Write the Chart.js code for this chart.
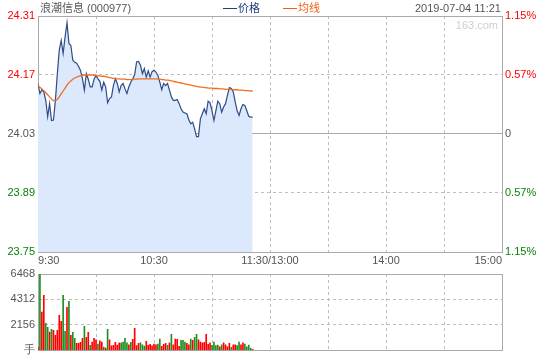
<!DOCTYPE html>
<html><head><meta charset="utf-8">
<script src="https://cdn.jsdelivr.net/npm/chart.js@4.4.1/dist/chart.umd.min.js"></script>
<style>
html,body{margin:0;padding:0;background:#fff;width:540px;height:360px;overflow:hidden;position:relative;font-family:"Liberation Sans",Arial,"Noto Sans CJK SC",sans-serif}
#c1{position:absolute;left:0;top:0}
#c2{position:absolute;left:0;top:264px}
.t{position:absolute;font-size:11px;line-height:14px;white-space:nowrap}
.ln{display:inline-block;width:14px;height:0;border-top:1.5px solid;vertical-align:middle;margin-right:1px;position:relative;top:-1px}
</style></head><body>
<canvas id="c1" width="540" height="270"></canvas>
<canvas id="c2" width="540" height="96"></canvas>
<div class="t" style="left:40px;top:1px;color:#555">浪潮信息 (000977)</div>
<div class="t" style="left:223px;top:1px;color:#1f3f7a"><span class="ln" style="border-color:#1f3f7a"></span>价格</div>
<div class="t" style="left:283px;top:1px;color:#f06010"><span class="ln" style="border-color:#f06010"></span>均线</div>
<div class="t" style="right:39px;top:1px;color:#555">2019-07-04 11:21</div>
<div class="t" style="right:42px;top:18px;color:#cfcfcf">163.com</div>
<script>
// ---- data ----
const timeTickMinutes = [0, 60, 120, 180, 240];
const timeTickLabels = ['9:30', '10:30', '11:30/13:00', '14:00', '15:00'];
const gridMinutes = [0, 30, 60, 90, 120, 150, 180, 210, 240];
const priceTicks = [24.31, 24.17, 24.03, 23.89, 23.75];
const pctTickLabels = ['1.15%', '0.57%', '0', '0.57%', '1.15%'];
const prevClose = 24.03;
const volumeTicks = [0, 2156, 4312, 6468];
const volumeTickLabels = ['手', '2156', '4312', '6468'];

const priceValues = [
 24.149,24.126,24.135,24.130,24.110,24.071,24.102,24.062,24.063,24.110,
 24.173,24.229,24.252,24.221,24.260,24.294,24.245,24.240,24.205,24.200,
 24.198,24.190,24.181,24.161,24.134,24.173,24.160,24.142,24.142,24.160,
 24.169,24.161,24.155,24.134,24.153,24.142,24.104,24.114,24.118,24.145,
 24.161,24.150,24.130,24.145,24.150,24.137,24.126,24.142,24.153,24.161,
 24.171,24.201,24.202,24.193,24.173,24.185,24.165,24.180,24.165,24.178,
 24.181,24.177,24.169,24.153,24.135,24.150,24.145,24.150,24.134,24.118,
 24.110,24.110,24.112,24.102,24.090,24.082,24.080,24.078,24.064,24.054,
 24.058,24.042,24.024,24.024,24.066,24.078,24.090,24.078,24.108,24.104,
 24.085,24.062,24.085,24.108,24.102,24.082,24.094,24.102,24.122,24.140,
 24.138,24.130,24.106,24.085,24.074,24.090,24.100,24.098,24.085,24.072,
 24.070,24.070];

const avgValues = [
 24.145,24.141,24.137,24.133,24.128,24.123,24.118,24.113,24.109,24.109,
 24.112,24.118,24.125,24.132,24.139,24.146,24.152,24.156,24.160,24.163,
 24.165,24.167,24.168,24.169,24.170,24.170,24.170,24.170,24.170,24.169,
 24.169,24.168,24.168,24.167,24.167,24.166,24.165,24.164,24.163,24.162,
 24.162,24.161,24.161,24.160,24.160,24.160,24.159,24.159,24.159,24.159,
 24.160,24.160,24.161,24.161,24.161,24.161,24.161,24.161,24.161,24.161,
 24.161,24.161,24.160,24.160,24.159,24.159,24.158,24.158,24.157,24.156,
 24.155,24.154,24.153,24.152,24.151,24.150,24.149,24.148,24.147,24.146,
 24.145,24.144,24.143,24.142,24.141,24.141,24.140,24.140,24.139,24.139,
 24.139,24.138,24.138,24.138,24.137,24.137,24.137,24.136,24.136,24.136,
 24.136,24.135,24.135,24.135,24.134,24.134,24.134,24.133,24.133,24.133,
 24.132,24.132];

const volumeValues = [
 254,6440,3248,4660,2287,1950,1553,1780,1694,1271,
 1694,2965,2457,4660,1610,3643,4151,1271,1525,1017,
 593,593,678,1017,2033,1101,1525,424,700,1017,
 904,536,819,706,282,198,1779,904,395,424,
 678,452,650,650,700,1017,650,480,678,932,
 1864,400,593,650,480,367,762,424,508,395,
 536,480,536,960,340,508,593,424,650,1355,
 480,950,932,350,850,847,700,600,480,960,
 847,1100,1355,900,700,650,678,1355,520,650,
 424,700,400,450,300,480,650,480,300,593,
 250,480,480,400,700,480,650,540,300,450,
 200,100];
// 1 = up (red), 0 = down (green)
const volumeUp = [
 1,0,1,1,0,0,1,0,1,1,
 1,1,1,0,0,1,0,1,0,0,
 1,1,1,1,0,1,1,0,1,1,
 1,0,1,1,0,1,0,1,1,1,
 1,1,1,0,0,0,0,1,0,1,
 1,1,1,0,0,0,1,1,1,1,
 1,1,0,0,1,1,1,0,1,0,
 1,1,1,1,0,0,0,1,1,0,
 1,0,0,1,1,1,1,1,1,1,
 0,0,0,0,1,0,1,1,1,1,
 0,1,1,0,0,1,1,0,0,0,
 0,1];

// ---- styles ----
const FONT = "'Liberation Sans', Arial, sans-serif";
const RED = '#ff0000', GREEN = '#0a820a', GREY = '#555555';
const BORDER = '#aaaaaa', GRID = '#bdbdbd';
const near = (a, b) => Math.abs(a - b) < 1e-6;
const priceColor = v => near(v, prevClose) ? GREY : (v > prevClose ? RED : GREEN);
const isEnd = c => c.tick && (c.tick.value === 0 || c.tick.value === 240);

new Chart(document.getElementById('c1'), {
  type: 'line',
  data: { datasets: [
    { label: '均线', data: avgValues.map((v, i) => ({ x: i, y: v })), borderColor: '#f36d21', borderWidth: 1.3,
      pointRadius: 0, fill: false, tension: 0, order: 0 },
    { label: '价格', data: priceValues.map((v, i) => ({ x: i, y: v })), borderColor: '#2c4d86', borderWidth: 1.2,
      pointRadius: 0, fill: 'start', backgroundColor: '#dce8fb', tension: 0, order: 1 }
  ]},
  options: {
    responsive: false, animation: false, events: [],
    layout: { padding: { top: 16, left: 0, right: 0, bottom: 0 } },
    plugins: { legend: { display: false }, tooltip: { enabled: false } },
    scales: {
      x: { type: 'linear', min: 0, max: 240,
        afterBuildTicks: s => { s.ticks = gridMinutes.map(v => ({ value: v })); },
        afterFit: s => { s.height = 18; },
        ticks: { align: 'inner', maxRotation: 0, autoSkip: false, padding: 2, color: GREY,
          font: { size: 11, family: FONT },
          callback: v => { const k = timeTickMinutes.indexOf(v); return k >= 0 ? timeTickLabels[k] : ''; } },
        grid: { drawTicks: false, offset: false, color: c => isEnd(c) ? BORDER : GRID },
        border: { color: BORDER, dash: c => isEnd(c) ? [] : [3, 3] }
      },
      y: { type: 'linear', position: 'left', min: 23.75, max: 24.31,
        afterBuildTicks: s => { s.ticks = priceTicks.map(v => ({ value: v })); },
        afterFit: s => { s.width = 38; },
        ticks: { padding: 3, font: { size: 11, family: FONT }, color: c => priceColor(c.tick.value),
          callback: v => v.toFixed(2) },
        grid: { drawTicks: false, color: c => (c.tick && [24.31, 24.03, 23.75].some(t => near(t, c.tick.value))) ? BORDER : GRID },
        border: { color: BORDER, dash: c => (c.tick && [24.31, 24.03, 23.75].some(t => near(t, c.tick.value))) ? [] : [3, 3] }
      },
      y2: { type: 'linear', position: 'right', min: 23.75, max: 24.31,
        afterBuildTicks: s => { s.ticks = priceTicks.map(v => ({ value: v })); },
        afterFit: s => { s.width = 38; },
        ticks: { padding: 3, font: { size: 11, family: FONT }, color: c => priceColor(c.tick.value),
          callback: (v) => { const k = priceTicks.findIndex(t => near(t, v)); return k >= 0 ? pctTickLabels[k] : ''; } },
        grid: { display: false, drawTicks: false },
        border: { color: BORDER }
      }
    }
  }
});

new Chart(document.getElementById('c2'), {
  type: 'bar',
  data: { datasets: [
    { label: '成交量', data: volumeValues.map((v, i) => ({ x: i, y: v })),
      backgroundColor: volumeUp.map(u => u ? RED : '#1f8f1f'), barThickness: 1, grouped: false }
  ]},
  options: {
    responsive: false, animation: false, events: [],
    layout: { padding: { top: 10, left: 0, right: 0, bottom: 9 } },
    plugins: { legend: { display: false }, tooltip: { enabled: false } },
    scales: {
      x: { type: 'linear', min: 0, max: 240, offset: false,
        afterBuildTicks: s => { s.ticks = gridMinutes.map(v => ({ value: v })); },
        afterFit: s => { s.height = 0; },
        ticks: { display: false },
        grid: { drawTicks: false, offset: false, color: c => isEnd(c) ? BORDER : GRID },
        border: { color: BORDER, dash: c => isEnd(c) ? [] : [3, 3] }
      },
      y: { type: 'linear', position: 'left', min: 0, max: 6468,
        afterBuildTicks: s => { s.ticks = volumeTicks.map(v => ({ value: v })); },
        afterFit: s => { s.width = 38; },
        ticks: { padding: 3, font: { size: 11, family: FONT }, color: GREY,
          callback: v => { const k = volumeTicks.indexOf(v); return k >= 0 ? volumeTickLabels[k] : ''; } },
        grid: { drawTicks: false, color: c => (c.tick && (c.tick.value === 0 || c.tick.value === 6468)) ? BORDER : GRID },
        border: { color: BORDER, dash: c => (c.tick && (c.tick.value === 0 || c.tick.value === 6468)) ? [] : [3, 3] }
      },
      y2: { type: 'linear', position: 'right', min: 0, max: 6468,
        afterFit: s => { s.width = 38; },
        ticks: { display: false },
        grid: { display: false, drawTicks: false },
        border: { color: BORDER }
      }
    }
  }
});
</script>
</body></html>
